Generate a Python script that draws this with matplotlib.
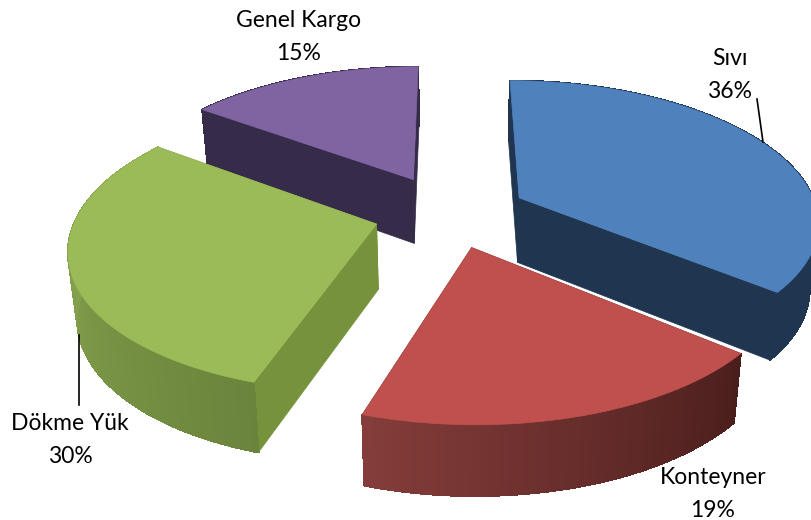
import numpy as np
import matplotlib
matplotlib.use('Agg')
import matplotlib.pyplot as plt
from matplotlib.colors import to_rgb

categories = ['Sıvı', 'Konteyner', 'Dökme Yük', 'Genel Kargo']
shares = [36, 19, 30, 15]

top_colors = ['#4F81BD', '#C0504D', '#9BBB59', '#8064A2']
cut_colors = ['#1F3550', '#4A1E1C', '#76923C', '#362B48']
# wall colour at start and end of each slice's arc
wall_colors = [('#1F3550', '#1F3550'), ('#4A1E1C', '#843D3A'),
               ('#6B843C', '#93B257'), ('#362B48', '#362B48')]
explodes = [0.26, 0.25, 0.255, 0.28]

cx, cy = 450, 213     # pie centre on screen
bx, by = 299, 139     # ground plane scale
persp_x = 0.155
persp_y = 0.15
persp_z = 0.07
depth = 65
taper = 0.024         # sides lean toward the centre going down


def project(u, v, z=0.0):
    fx = 1 / (1 + v * persp_x)
    fy = 1 / (1 + v * persp_y)
    fz = 1 / (1 + v * persp_z)
    return cx + bx * u * fx * (1 - taper * z), cy - by * v * fy + depth * z * fz


fig = plt.figure(figsize=(8.12, 5.2), dpi=100)
ax = fig.add_axes([0, 0, 1, 1])
ax.set_xlim(0, 812)
ax.set_ylim(520, 0)
ax.axis('off')

edges = np.cumsum([0] + shares) / sum(shares) * 2 * np.pi
slices = []
for i in range(len(shares)):
    mid = (edges[i] + edges[i + 1]) / 2
    th = np.linspace(edges[i], edges[i + 1], 90)
    u0, v0 = explodes[i] * np.sin(mid), explodes[i] * np.cos(mid)
    slices.append((i, th, u0, v0))

# back slices first
for i, th, u0, v0 in sorted(slices, key=lambda s: -s[3]):
    u = u0 + np.sin(th)
    v = v0 + np.cos(th)

    # radial cut faces
    for k in (0, -1):
        us = [u0, u[k], u[k], u0]
        vs = [v0, v[k], v[k], v0]
        zs = [0, 0, 1, 1]
        px, py = zip(*[project(a, b, c) for a, b, c in zip(us, vs, zs)])
        ax.fill(px, py, color=cut_colors[i], lw=0.5)

    # outer wall with gradient along the arc
    c0, c1 = np.array(to_rgb(wall_colors[i][0])), np.array(to_rgb(wall_colors[i][1]))
    for j in range(len(th) - 1):
        t = j / (len(th) - 2)
        col = c0 + (c1 - c0) * t
        us = [u[j], u[j + 1], u[j + 1], u[j]]
        vs = [v[j], v[j + 1], v[j + 1], v[j]]
        zs = [0, 0, 1, 1]
        px, py = zip(*[project(a, b, c) for a, b, c in zip(us, vs, zs)])
        ax.fill(px, py, color=col, lw=0.8, antialiased=False)

    # top surface
    px, py = project(np.r_[u0, u], np.r_[v0, v])
    ax.fill(px, py, color=top_colors[i], lw=0.5)

# leader lines
ax.plot([757, 763], [99, 142], color='black', lw=1.2)
ax.plot([79, 79], [335, 405], color='black', lw=1.2)

# labels
label_pos = [(730, 75), (713, 494), (70, 440), (299, 37)]
for name, val, (lx, ly) in zip(categories, shares, label_pos):
    ax.text(lx, ly, f'{name}\n{val}%', ha='center', va='center', fontsize=16.5,
            family='Lato', color='black', linespacing=1.68)

fig.savefig('out.png', dpi=100)
